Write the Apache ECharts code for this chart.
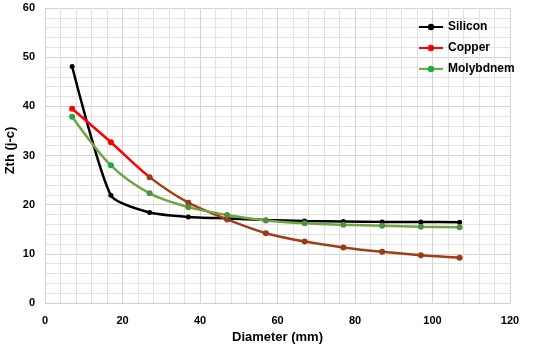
<!DOCTYPE html>
<html><head><meta charset="utf-8">
<script src="https://cdn.jsdelivr.net/npm/echarts@6/dist/echarts.min.js"></script>
<style>html,body{margin:0;padding:0;background:#fff}#c{width:550px;height:345px}</style>
</head><body><div id="c"></div>
<script>
const diameters = [7, 17, 27, 37, 47, 57, 67, 77, 87, 97, 107];
const silicon = [48.1, 21.9, 18.4, 17.5, 17.2, 16.9, 16.7, 16.6, 16.5, 16.5, 16.4];
const copper = [39.5, 32.7, 25.6, 20.4, 17.0, 14.2, 12.5, 11.3, 10.4, 9.7, 9.2];
const molybdnem = [37.9, 28.0, 22.3, 19.5, 17.9, 16.8, 16.2, 15.9, 15.7, 15.5, 15.4];
const switchAt = 27;
const pair = (ys) => diameters.map((x, i) => [x, ys[i]]);
const frac = (switchAt - diameters[0]) / (diameters[diameters.length - 1] - diameters[0]);
const grad = (c1, c2) => ({type: 'linear', x: 0, y: 0, x2: 1, y2: 0, colorStops: [
  {offset: 0, color: c1}, {offset: frac, color: c1}, {offset: frac + 0.001, color: c2}, {offset: 1, color: c2}]});
const font = 'Liberation Sans, Arial, sans-serif';
const chart = echarts.init(document.getElementById('c'));
chart.setOption({
  animation: false,
  grid: {left: 45, right: 40, top: 8, bottom: 42, containLabel: false, outerBoundsMode: 'none'},
  legend: {
    orient: 'vertical', left: 413, top: 16, itemGap: 9, itemWidth: 24, itemHeight: 8,
    textStyle: {fontFamily: font, fontWeight: 'bold', fontSize: 12, color: '#000'},
    data: [
      {name: 'Silicon', itemStyle: {color: '#000'}, lineStyle: {color: '#000'}},
      {name: 'Copper', itemStyle: {color: '#ff0000'}, lineStyle: {color: '#ff0000'}},
      {name: 'Molybdnem', itemStyle: {color: '#22a845'}, lineStyle: {color: '#70ad47'}}
    ]
  },
  xAxis: {
    type: 'value', min: 0, max: 120, interval: 20,
    name: 'Diameter (mm)', nameLocation: 'middle', nameGap: 20,
    nameTextStyle: {fontFamily: font, fontWeight: 'bold', fontSize: 13, color: '#000'},
    axisLine: {show: true, lineStyle: {color: '#d0d0d0'}}, axisTick: {show: false},
    axisLabel: {fontFamily: font, fontWeight: 'bold', fontSize: 11, color: '#000', margin: 12},
    splitLine: {show: true, lineStyle: {color: '#d4d4d4'}},
    minorTick: {show: false, splitNumber: 5},
    minorSplitLine: {show: true, lineStyle: {color: '#e3e3e3'}}
  },
  yAxis: {
    type: 'value', min: 0, max: 60, interval: 10,
    name: 'Zth (j-c)', nameLocation: 'middle', nameGap: 28, nameRotate: 90, nameMoveOverlap: false,
    nameTextStyle: {fontFamily: font, fontWeight: 'bold', fontSize: 13, color: '#000', padding: [0, 0, 0, 10]},
    axisLine: {show: false}, axisTick: {show: false},
    axisLabel: {fontFamily: font, fontWeight: 'bold', fontSize: 11, color: '#000', margin: 10},
    splitLine: {show: true, lineStyle: {color: '#d4d4d4'}},
    minorTick: {show: false, splitNumber: 5},
    minorSplitLine: {show: true, lineStyle: {color: '#e3e3e3'}}
  },
  series: [
    {name: 'Silicon', type: 'line', smooth: 0.2, data: pair(silicon), symbol: 'circle', symbolSize: 5,
     itemStyle: {color: '#000'}, lineStyle: {color: '#000', width: 2.5}},
    {name: 'Copper', type: 'line', smooth: 0.3, data: pair(copper), symbol: 'circle', symbolSize: 6,
     itemStyle: {color: (p) => p.value[0] <= switchAt - 1 ? '#ff0000' : '#9b3a14'},
     lineStyle: {width: 2.5, color: grad('#ff0000', '#a33d16')}},
    {name: 'Molybdnem', type: 'line', smooth: 0.3, data: pair(molybdnem), symbol: 'circle', symbolSize: 6,
     itemStyle: {color: (p) => p.value[0] <= switchAt - 1 ? '#1fa84a' : '#4f8f45'},
     lineStyle: {width: 2.5, color: '#70a544'}}
  ]
});
</script></body></html>
